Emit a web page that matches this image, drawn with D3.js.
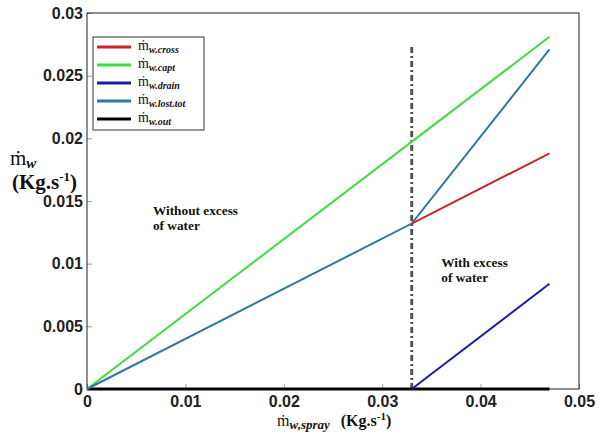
<!DOCTYPE html>
<meta charset="utf-8">
<script src="https://d3js.org/d3.v7.min.js"></script>
<style>
  body { margin: 0; background: #fff; }
  .tick text { font-family: "Liberation Sans", Arial, sans-serif; font-weight: bold; font-size: 16px; fill: #222; }
  .lab { font-family: "Liberation Serif", "Times New Roman", serif; fill: #111; }
</style>
<div id="my_dataviz"></div>
<script>
// chart data
var xTicks = [0, 0.01, 0.02, 0.03, 0.04, 0.05];
var yTicks = [0, 0.005, 0.01, 0.015, 0.02, 0.025, 0.03];
var seriesNames = ["w.cross", "w.capt", "w.drain", "w.lost.tot", "w.out"];
var seriesColors = ["#c8262b", "#3fdc3f", "#1b1ba0", "#2b7aa0", "#000000"];
var crossX = [0.033, 0.047], crossY = [0.0132, 0.0188];
var captX = [0, 0.047], captY = [0, 0.0281];
var drainX = [0.033, 0.047], drainY = [0, 0.0084];
var lostX = [0, 0.033, 0.047], lostY = [0, 0.0132, 0.0271];
var outX = [0, 0.047], outY = [0, 0];
var limitX = 0.033, limitTop = 0.0275;

var margin = {top: 13, right: 24, bottom: 50, left: 87},
    width = 603 - margin.left - margin.right,
    height = 439 - margin.top - margin.bottom;

var svg = d3.select("#my_dataviz")
  .append("svg")
    .attr("width", 603)
    .attr("height", 439)
  .append("g")
    .attr("transform", "translate(" + margin.left + "," + margin.top + ")");

var x = d3.scaleLinear().domain([0, 0.05]).range([0, width]);
var y = d3.scaleLinear().domain([0, 0.03]).range([height, 0]);

// axes, ticks inward
var fmt = function(d) { return d3.format("")(+d.toFixed(3)); };
svg.append("g")
    .attr("transform", "translate(0," + height + ")")
    .call(d3.axisBottom(x).tickValues(xTicks).tickFormat(fmt).tickSize(-5).tickPadding(7))
    .call(function(g) { g.select(".domain").remove(); g.selectAll("line").attr("stroke", "#999"); });
svg.append("g")
    .call(d3.axisLeft(y).tickValues(yTicks).tickFormat(fmt).tickSize(-5).tickPadding(4))
    .call(function(g) { g.select(".domain").remove(); g.selectAll("line").attr("stroke", "#999"); });

// frame
svg.append("rect")
    .attr("width", width).attr("height", height)
    .attr("fill", "none").attr("stroke", "#222").attr("stroke-width", 1);

// lines
var line = d3.line().x(function(d) { return x(d[0]); }).y(function(d) { return y(d[1]); });
function pts(xs, ys) { return xs.map(function(v, i) { return [v, ys[i]]; }); }
var series = [pts(crossX, crossY), pts(captX, captY), pts(drainX, drainY), pts(lostX, lostY), pts(outX, outY)];

svg.append("line")
    .attr("x1", x(limitX)).attr("x2", x(limitX))
    .attr("y1", y(0)).attr("y2", y(limitTop))
    .attr("stroke", "#555").attr("stroke-width", 3)
    .attr("stroke-dasharray", "6,3,2,3");

[4, 1, 2, 3, 0].forEach(function(i) {
  svg.append("path")
      .attr("d", line(series[i]))
      .attr("fill", "none")
      .attr("stroke", seriesColors[i])
      .attr("stroke-width", i == 4 ? 3 : 2);
});

// legend
var leg = svg.append("g").attr("transform", "translate(6,24)");
leg.append("rect").attr("width", 111).attr("height", 93)
    .attr("fill", "#fff").attr("stroke", "#333");
seriesNames.forEach(function(n, i) {
  var yy = 10 + i * 18;
  leg.append("line").attr("x1", 4).attr("x2", 38).attr("y1", yy).attr("y2", yy)
      .attr("stroke", seriesColors[i]).attr("stroke-width", 3);
  var t = leg.append("text").attr("class", "lab").attr("x", 45).attr("y", yy + 3)
      .attr("font-size", 14);
  t.append("tspan").text("ṁ");
  t.append("tspan").attr("dy", 3).attr("font-size", 10).attr("font-style", "italic")
      .attr("font-weight", "bold").text(n);
});

// annotations
function note(tx, ty, l1, l2) {
  svg.append("text").attr("class", "lab").attr("x", tx).attr("y", ty)
      .attr("font-size", 13.3).attr("font-weight", "bold").text(l1);
  svg.append("text").attr("class", "lab").attr("x", tx).attr("y", ty + 15)
      .attr("font-size", 13.3).attr("font-weight", "bold").text(l2);
}
note(x(0.0067), y(0.0139), "Without excess", "of water");
note(x(0.0360), y(0.0097), "With excess", "of water");

// axis labels
var yl = d3.select("svg").append("text").attr("class", "lab").attr("x", 10).attr("y", 165).attr("font-size", 21);
yl.append("tspan").text("ṁ");
yl.append("tspan").attr("dy", 3).attr("font-size", 15).attr("font-style", "italic").attr("font-weight", "bold").text("w");
var yu = d3.select("svg").append("text").attr("class", "lab").attr("x", 12).attr("y", 189).attr("font-size", 21).attr("font-weight", "bold");
yu.append("tspan").text("(Kg.s");
yu.append("tspan").attr("dy", -8).attr("font-size", 13).text("-1");
yu.append("tspan").attr("dy", 8).text(")");

var xl = d3.select("svg").append("text").attr("class", "lab").attr("x", 277).attr("y", 426).attr("font-size", 16);
xl.append("tspan").text("ṁ");
xl.append("tspan").attr("dy", 3).attr("font-size", 13).attr("font-style", "italic").attr("font-weight", "bold").text("w,spray");
xl.append("tspan").attr("dy", -3).attr("dx", 11).attr("font-weight", "bold").text("(Kg.s");
xl.append("tspan").attr("dy", -6).attr("font-size", 11).attr("font-weight", "bold").text("-1");
xl.append("tspan").attr("dy", 6).attr("font-weight", "bold").text(")");
</script>
